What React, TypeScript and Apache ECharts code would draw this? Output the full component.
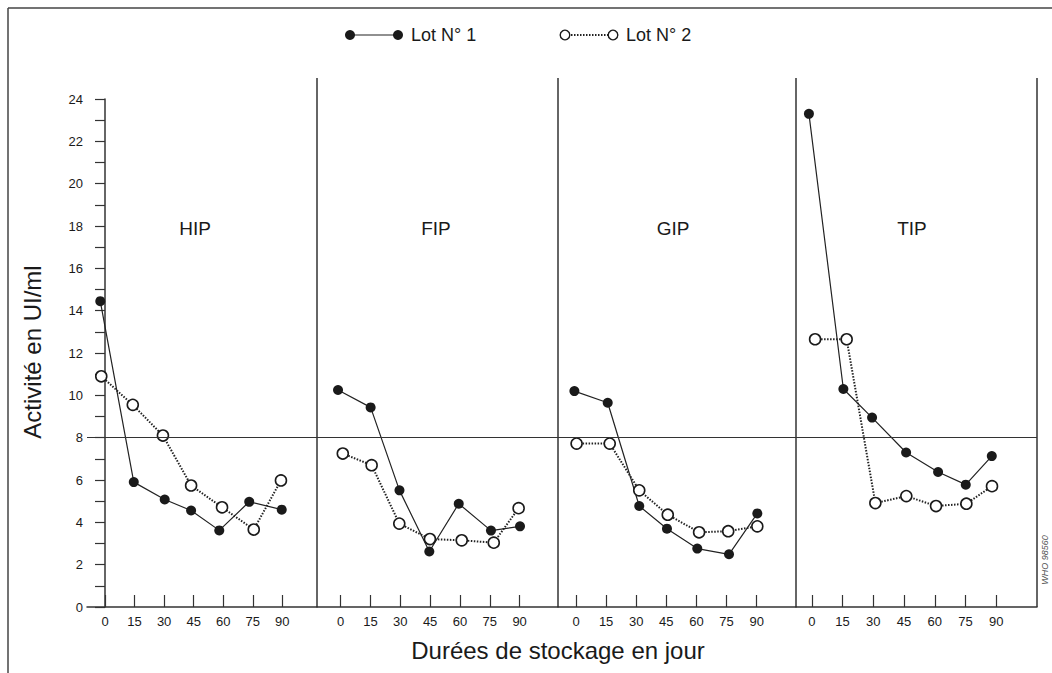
import React, { useEffect, useRef } from 'react';
import * as echarts from 'echarts';

// ---- data ----
const DAYS = [0, 15, 30, 45, 60, 75, 90];
const PANEL_NAMES = ['HIP', 'FIP', 'GIP', 'TIP'];
const SERIES_NAMES = ['Lot N° 1', 'Lot N° 2'];

// plotted day positions (as drawn) and activities (UI/ml)
const HIP_LOT1_DAY = [-2.4, 14.6, 30.3, 43.7, 58.0, 73.2, 89.7];
const HIP_LOT1 = [14.45, 5.9, 5.08, 4.56, 3.62, 4.97, 4.6];
const HIP_LOT2_DAY = [-1.9, 14.1, 29.4, 43.7, 59.4, 75.5, 89.3];
const HIP_LOT2 = [10.9, 9.55, 8.1, 5.74, 4.71, 3.66, 5.98];

const FIP_LOT1_DAY = [-1.3, 15.1, 29.6, 44.6, 59.4, 75.6, 90.2];
const FIP_LOT1 = [10.25, 9.43, 5.51, 2.62, 4.88, 3.61, 3.81];
const FIP_LOT2_DAY = [1.1, 15.6, 29.5, 44.9, 60.9, 77.0, 89.5];
const FIP_LOT2 = [7.25, 6.7, 3.94, 3.21, 3.15, 3.04, 4.67];

const GIP_LOT1_DAY = [-0.8, 15.8, 31.5, 45.3, 60.4, 76.2, 90.3];
const GIP_LOT1 = [10.2, 9.65, 4.77, 3.7, 2.76, 2.49, 4.42];
const GIP_LOT2_DAY = [0.3, 16.8, 31.5, 45.7, 61.3, 75.8, 90.3];
const GIP_LOT2 = [7.72, 7.72, 5.51, 4.36, 3.53, 3.58, 3.81];

const TIP_LOT1_DAY = [-1.4, 15.4, 29.4, 46.0, 61.6, 75.1, 87.8];
const TIP_LOT1 = [23.3, 10.3, 8.95, 7.3, 6.38, 5.78, 7.13];
const TIP_LOT2_DAY = [1.6, 17.0, 31.0, 46.1, 60.6, 75.4, 87.9];
const TIP_LOT2 = [12.65, 12.65, 4.91, 5.24, 4.77, 4.88, 5.71];

const THRESHOLD = 8;
const Y_MIN = 0;
const Y_MAX = 24;

const LOT1_DAYS = [HIP_LOT1_DAY, FIP_LOT1_DAY, GIP_LOT1_DAY, TIP_LOT1_DAY];
const LOT1_VALUES = [HIP_LOT1, FIP_LOT1, GIP_LOT1, TIP_LOT1];
const LOT2_DAYS = [HIP_LOT2_DAY, FIP_LOT2_DAY, GIP_LOT2_DAY, TIP_LOT2_DAY];
const LOT2_VALUES = [HIP_LOT2, FIP_LOT2, GIP_LOT2, TIP_LOT2];

// ---- layout ----
const PANEL_EDGES = [87, 317, 558, 796, 1037];
const X_RANGES = [
  [-9.14, 107.6],
  [-11.87, 109.3],
  [-8.96, 109.56],
  [-7.71, 109.85],
];
const PLOT_TOP = 99;
const PLOT_BOTTOM = 607;
const FONT = '"Liberation Sans", Arial, Helvetica, sans-serif';
const INK = '#1a1a1a';

export default function App() {
  const ref = useRef<HTMLDivElement | null>(null);

  useEffect(() => {
    if (!ref.current) return;
    const chart = echarts.init(ref.current, null, { renderer: 'svg' });

    const grids: any[] = [];
    const xAxes: any[] = [];
    const yAxes: any[] = [];
    const series: any[] = [];

    PANEL_NAMES.forEach((name, i) => {
      grids.push({
        left: PANEL_EDGES[i],
        width: PANEL_EDGES[i + 1] - PANEL_EDGES[i],
        top: PLOT_TOP,
        height: PLOT_BOTTOM - PLOT_TOP,
        containLabel: false,
        outerBoundsMode: 'none',
      });
      xAxes.push({
        type: 'value',
        gridIndex: i,
        min: X_RANGES[i][0],
        max: X_RANGES[i][1],
        axisLine: { show: true, onZero: false, lineStyle: { color: '#333', width: 1.5 } },
        axisTick: {
          show: true,
          inside: true,
          length: 12,
          customValues: DAYS,
          lineStyle: { color: '#333', width: 1.2 },
        },
        axisLabel: {
          show: true,
          customValues: DAYS,
          color: INK,
          fontSize: 13,
          fontFamily: FONT,
          margin: 8,
        },
        splitLine: { show: false },
      });
      yAxes.push({
        type: 'value',
        gridIndex: i,
        min: Y_MIN,
        max: Y_MAX,
        interval: 1,
        show: i === 0,
        axisLine: { show: true, lineStyle: { color: '#333', width: 1.5 } },
        axisTick: { show: true, length: 10, lineStyle: { color: '#333', width: 1.2 } },
        axisLabel: {
          color: INK,
          fontSize: 13,
          fontFamily: FONT,
          margin: 4,
          formatter: (v: number) => (v % 2 === 0 ? String(v) : ''),
        },
        splitLine: { show: false },
      });
      series.push({
        type: 'line',
        name: SERIES_NAMES[0],
        xAxisIndex: i,
        yAxisIndex: i,
        data: LOT1_DAYS[i].map((d, k) => [d, LOT1_VALUES[i][k]]),
        symbol: 'circle',
        symbolSize: 10,
        itemStyle: { color: INK, borderWidth: 0 },
        lineStyle: { color: '#222', width: 1.2 },
        z: 3,
        markLine: {
          silent: true,
          symbol: 'none',
          label: { show: false },
          lineStyle: { color: '#333', width: 1.2, type: 'solid' },
          data: [{ yAxis: THRESHOLD }],
        },
      });
      series.push({
        type: 'line',
        name: SERIES_NAMES[1],
        xAxisIndex: i,
        yAxisIndex: i,
        data: LOT2_DAYS[i].map((d, k) => [d, LOT2_VALUES[i][k]]),
        symbol: 'circle',
        symbolSize: 11,
        itemStyle: { color: '#fff', borderColor: INK, borderWidth: 1.6 },
        lineStyle: { color: '#222', width: 2, type: [1.5, 1.5] },
        z: 4,
      });
    });

    const titleCenters = [195, 436, 673, 912];
    const graphics: any[] = [];
    // outer frame (top and left)
    graphics.push({ type: 'line', shape: { x1: 8, y1: 8, x2: 1052, y2: 8 }, style: { stroke: '#444', lineWidth: 1.5 } });
    graphics.push({ type: 'line', shape: { x1: 8, y1: 8, x2: 8, y2: 673 }, style: { stroke: '#444', lineWidth: 1.5 } });
    // panel separators
    PANEL_EDGES.slice(1).forEach((x) => {
      graphics.push({ type: 'line', shape: { x1: x, y1: 78, x2: x, y2: PLOT_BOTTOM }, style: { stroke: '#333', lineWidth: 1.5 } });
    });
    // panel titles
    PANEL_NAMES.forEach((name, i) => {
      graphics.push({
        type: 'text',
        x: titleCenters[i],
        y: 228,
        style: { text: name, fill: INK, fontSize: 19, fontFamily: FONT, align: 'center', verticalAlign: 'middle' },
      });
    });
    // legend
    graphics.push({ type: 'line', shape: { x1: 350, y1: 35, x2: 398, y2: 35 }, style: { stroke: '#222', lineWidth: 1.2 } });
    graphics.push({ type: 'circle', shape: { cx: 350, cy: 35, r: 5 }, style: { fill: INK } });
    graphics.push({ type: 'circle', shape: { cx: 398, cy: 35, r: 5 }, style: { fill: INK } });
    graphics.push({
      type: 'text', x: 411, y: 35,
      style: { text: SERIES_NAMES[0], fill: INK, fontSize: 18, fontFamily: FONT, verticalAlign: 'middle' },
    });
    graphics.push({ type: 'line', shape: { x1: 565, y1: 35, x2: 613, y2: 35 }, style: { stroke: '#222', lineWidth: 2, lineDash: [1.5, 1.5] } });
    graphics.push({ type: 'circle', shape: { cx: 565, cy: 35, r: 4.8 }, style: { fill: '#fff', stroke: INK, lineWidth: 1.4 } });
    graphics.push({ type: 'circle', shape: { cx: 613, cy: 35, r: 4.8 }, style: { fill: '#fff', stroke: INK, lineWidth: 1.4 } });
    graphics.push({
      type: 'text', x: 626, y: 35,
      style: { text: SERIES_NAMES[1], fill: INK, fontSize: 18, fontFamily: FONT, verticalAlign: 'middle' },
    });
    // axis titles
    graphics.push({
      type: 'text', x: 558, y: 650,
      style: { text: 'Durées de stockage en jour', fill: INK, fontSize: 24, fontFamily: FONT, align: 'center', verticalAlign: 'middle' },
    });
    graphics.push({
      type: 'text', x: 32, y: 352, rotation: Math.PI / 2,
      style: { text: 'Activité en UI/ml', fill: INK, fontSize: 24, fontFamily: FONT, align: 'center', verticalAlign: 'middle' },
    });
    // reference code
    graphics.push({
      type: 'text', x: 1045, y: 560, rotation: Math.PI / 2,
      style: { text: 'WHO 98560', fill: '#555', fontSize: 9, fontStyle: 'italic', fontFamily: FONT, align: 'center', verticalAlign: 'middle' },
    });

    chart.setOption({
      animation: false,
      backgroundColor: '#fff',
      grid: grids,
      xAxis: xAxes,
      yAxis: yAxes,
      series,
      graphic: { elements: graphics },
    });

    return () => chart.dispose();
  }, []);

  return (
    <div
      ref={ref}
      style={{ position: 'fixed', left: 0, top: 0, width: 1052, height: 673, background: '#fff' }}
    />
  );
}
